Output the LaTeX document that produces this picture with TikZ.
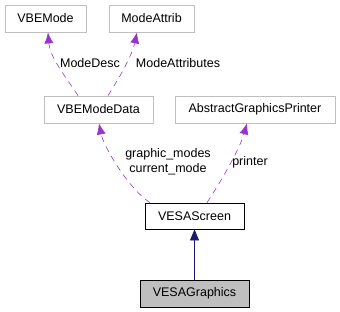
\documentclass[tikz,border=0pt]{standalone}
\usepackage{fontspec}
\setmainfont{Liberation Sans}
\usetikzlibrary{arrows.meta}
\definecolor{boxgrey}{HTML}{BFBFBF}
\definecolor{usecol}{HTML}{9A32CD}
\definecolor{inhcol}{HTML}{191970}

\begin{document}
\begin{tikzpicture}[x=1bp,y=-1bp,
    font=\fontsize{12.5bp}{15bp}\selectfont,
    cls/.style={draw=boxgrey,line width=0.8bp,minimum height=27bp,inner xsep=0pt,fill=white},
    cur/.style={cls,draw=black,fill=white},
    self/.style={cls,draw=black,fill=boxgrey},
    uses/.style={draw=usecol,dash pattern=on 6bp off 5bp,line width=0.6bp,-{Latex[length=11bp,width=9bp]}},
    inherits/.style={draw=inhcol,line width=0.8bp,-{Triangle[length=11bp,width=9bp]}},
    lbl/.style={inner sep=0pt,align=center}]
  \useasboundingbox (0,0) rectangle (340,312);
  \node[cls,minimum width=81bp] (vbemode) at (45.5,18.5) {VBEMode};
  \node[cls,minimum width=85bp] (modeattrib) at (151.5,18.5) {ModeAttrib};
  \node[cls,minimum width=109bp] (modedata) at (98.5,109.5) {VBEModeData};
  \node[cls,minimum width=160bp] (printer) at (255,109.5) {AbstractGraphicsPrinter};
  \node[cur,minimum width=99bp,minimum height=26bp] (screen) at (194.5,216) {VESAScreen};
  \node[self,minimum width=109bp] (graphics) at (194.5,293.5) {VESAGraphics};
  % member labels
  \node[lbl] (descl) at (90,63) {ModeDesc};
  \node[lbl] (attrl) at (178,63) {ModeAttributes};
  \node[lbl] (model) at (168,162) {graphic\_modes\\current\_mode};
  \node[lbl] (printl) at (250,162) {printer};
  % usage edges
  \draw[uses] ([xshift=-20.5bp]modedata.north) .. controls (68,80) and (50,58) .. ([xshift=2.5bp]vbemode.south);
  \draw[uses] ([xshift=9.5bp]modedata.north) .. controls (118,80) and (132,56) .. ([xshift=-14.5bp]modeattrib.south);
  \draw[uses] ([xshift=-44.5bp]screen.north) .. controls (130,190) and (104,148) .. ([xshift=0.5bp]modedata.south);
  \draw[uses] ([xshift=12.5bp]screen.north) .. controls (222,180) and (240,148) .. ([xshift=-8bp]printer.south);
  % inheritance
  \draw[inherits] (graphics) -- (screen);
\end{tikzpicture}
\end{document}
